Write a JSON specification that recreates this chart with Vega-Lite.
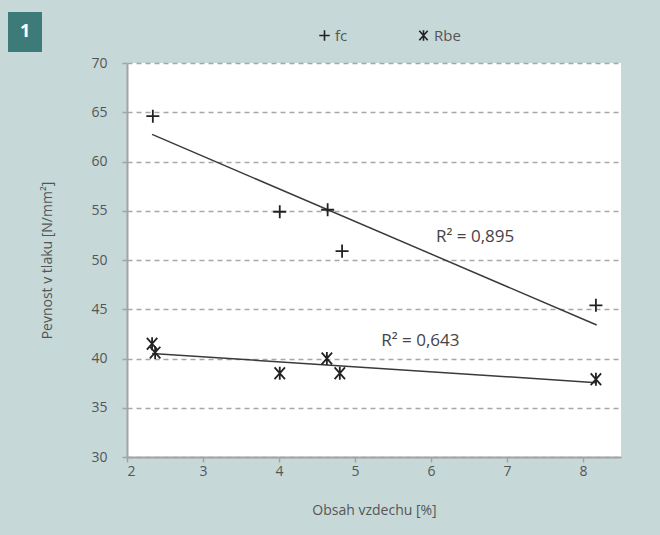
{
  "$schema": "https://vega.github.io/schema/vega-lite/v6.json",
  "width": 494,
  "height": 394,
  "autosize": {"type": "none"},
  "padding": {"left": 127, "top": 63, "right": 39, "bottom": 78},
  "background": "#c6d9d8",
  "config": {
    "view": {"fill": "white", "stroke": null},
    "font": "Open Sans",
    "axis": {
      "labelFont": "Open Sans",
      "titleFont": "Open Sans",
      "labelFontSize": 14,
      "titleFontSize": 14,
      "labelColor": "#555555",
      "titleColor": "#555555",
      "titleFontWeight": "normal",
      "domainColor": "#a3a3a3",
      "domainWidth": 2,
      "tickColor": "#a3a3a3",
      "tickWidth": 1.5,
      "tickSize": 5
    }
  },
  "datasets": {
    "points": [
      {"series": "fc", "air": 2.34, "strength": 64.6},
      {"series": "fc", "air": 4.01, "strength": 54.9},
      {"series": "fc", "air": 4.64, "strength": 55.1},
      {"series": "fc", "air": 4.83, "strength": 50.9},
      {"series": "fc", "air": 8.17, "strength": 45.4},
      {"series": "Rbe", "air": 2.33, "strength": 41.5},
      {"series": "Rbe", "air": 2.37, "strength": 40.6},
      {"series": "Rbe", "air": 4.01, "strength": 38.5},
      {"series": "Rbe", "air": 4.63, "strength": 40.0},
      {"series": "Rbe", "air": 4.8, "strength": 38.5},
      {"series": "Rbe", "air": 8.17, "strength": 37.9}
    ],
    "trends": [
      {"series": "fc", "air": 2.33, "strength": 62.75},
      {"series": "fc", "air": 8.18, "strength": 43.4},
      {"series": "Rbe", "air": 2.33, "strength": 40.5},
      {"series": "Rbe", "air": 8.18, "strength": 37.55}
    ],
    "labels": [
      {"text": "R² = 0,895", "air": 6.58, "strength": 52.3},
      {"text": "R² = 0,643", "air": 5.86, "strength": 41.8}
    ]
  },
  "layer": [
    {
      "data": {"name": "trends"},
      "mark": {"type": "line", "color": "#3a3a3a", "strokeWidth": 1.5},
      "encoding": {
        "x": {
          "field": "air", "type": "quantitative",
          "scale": {"domain": [2, 8.5], "nice": false, "zero": false},
          "axis": {"values": [2, 3, 4, 5, 6, 7, 8], "format": "d", "grid": false, "title": "Obsah vzdechu [%]", "labelPadding": 2, "titlePadding": 25}
        },
        "y": {
          "field": "strength", "type": "quantitative",
          "scale": {"domain": [30, 70], "nice": false, "zero": false},
          "axis": {
            "values": [30, 35, 40, 45, 50, 55, 60, 65, 70],
            "title": "Pevnost v tlaku [N/mm²]",
            "labelPadding": 15,
            "titlePadding": 36,
            "grid": true,
            "gridColor": "#a8a8a8",
            "gridDash": [5, 4],
            "gridWidth": 1.5
          }
        },
        "detail": {"field": "series", "type": "nominal"}
      }
    },
    {
      "data": {"name": "points"},
      "mark": {"type": "point", "filled": false, "color": "#222222", "strokeWidth": 1.8, "size": 170, "opacity": 1},
      "encoding": {
        "x": {"field": "air", "type": "quantitative"},
        "y": {"field": "strength", "type": "quantitative"},
        "shape": {
          "field": "series", "type": "nominal",
          "scale": {"domain": ["fc", "Rbe"], "range": ["M-1,0H1M0,-1V1", "M-0.8,-0.9L0.8,0.9M0.8,-0.9L-0.8,0.9M0,-1V1"]},
          "legend": {
            "title": null,
            "orient": "none",
            "direction": "horizontal",
            "legendX": 190,
            "legendY": -35,
            "symbolSize": 110,
            "symbolStrokeColor": "#222222",
            "symbolStrokeWidth": 1.6,
            "labelFont": "Open Sans",
            "labelFontSize": 15,
            "labelColor": "#555555",
            "labelOffset": 3,
            "columnPadding": 68
          }
        }
      }
    },
    {
      "data": {"name": "labels"},
      "mark": {"type": "text", "fontSize": 17, "font": "Open Sans"},
      "encoding": {
        "x": {"field": "air", "type": "quantitative"},
        "y": {"field": "strength", "type": "quantitative"},
        "text": {"field": "text"},
        "color": {
          "datum": "1", "type": "nominal",
          "scale": {"range": ["#444444"]},
          "legend": {
            "title": null,
            "orient": "none",
            "legendX": -119,
            "legendY": -51,
            "fillColor": "#3d7b79",
            "padding": 11,
            "symbolSize": 0,
            "symbolOpacity": 0,
            "symbolStrokeWidth": 0,
            "labelOffset": -17,
            "labelColor": "white",
            "labelFont": "Open Sans",
            "labelFontSize": 18,
            "labelFontWeight": "bold"
          }
        }
      }
    }
  ]
}
